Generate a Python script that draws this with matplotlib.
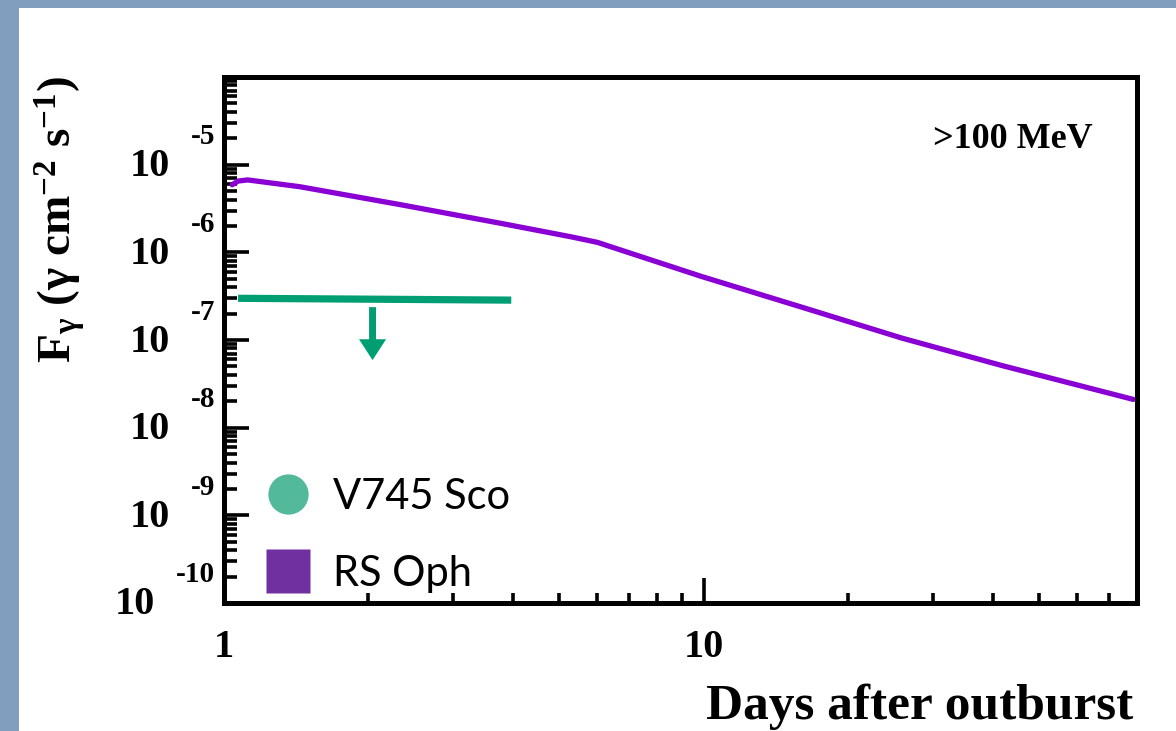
import numpy as np
import matplotlib.pyplot as plt
from matplotlib.patches import Rectangle
from matplotlib.lines import Line2D
from matplotlib.ticker import LogLocator, NullFormatter, FixedFormatter, FixedLocator

plt.rcParams['mathtext.fontset'] = 'custom'
plt.rcParams['mathtext.rm'] = 'Liberation Serif:bold'
plt.rcParams['mathtext.it'] = 'Liberation Serif:bold'
plt.rcParams['mathtext.bf'] = 'Liberation Serif:bold'

# RS Oph >100 MeV light curve (days, photons cm^-2 s^-1)
rs_days = [1.04, 1.07, 1.12, 1.44, 2.33, 3.78, 5.3, 6.0, 9.9, 16.0, 25.9, 41.9, 78.6]
rs_flux = [5.9e-6, 6.5e-6, 6.7e-6, 5.6e-6, 3.5e-6, 2.14e-6, 1.5e-6, 1.3e-6, 5.3e-7, 2.37e-7,
           1.05e-7, 5.1e-8, 2.1e-8]

# V745 Sco upper limit
ul_days = [1.07, 3.97]
ul_flux = [2.99e-7, 2.85e-7]
ul_arrow_day = 2.04
ul_arrow_from = 2.37e-7
ul_arrow_to = 5.9e-8

y_exponents = [-5, -6, -7, -8, -9, -10]
x_ticks = [1, 10]
x_ticklabels = ['1', '10']

W, H = 1176, 731
fig = plt.figure(figsize=(W / 100, H / 100), dpi=100)
fig.patch.set_facecolor('white')

# slide frame
frame_col = '#829EBE'
fig.add_artist(Rectangle((0, 0), 19 / W, 1, transform=fig.transFigure, color=frame_col, lw=0))
fig.add_artist(Rectangle((0, 1 - 8 / H), 1, 8 / H, transform=fig.transFigure, color=frame_col, lw=0))

ax = fig.add_axes([224 / W, 1 - 603 / H, (1137 - 224) / W, (603 - 77) / H])
ax.set_xscale('log')
ax.set_yscale('log')
ax.set_xlim(1, 80)
ax.set_ylim(1e-10, 1e-4)

ax.plot(rs_days, rs_flux, color='#8A00D4', lw=3.8, solid_capstyle='round', solid_joinstyle='round')
ax.plot(ul_days, ul_flux, color='#009E73', lw=5.2, solid_capstyle='butt')
ax.annotate('', xy=(ul_arrow_day, ul_arrow_to), xytext=(ul_arrow_day, ul_arrow_from),
            arrowprops=dict(arrowstyle='simple,head_length=1.5,head_width=1.95,tail_width=0.5',
                            mutation_scale=10, color='#009E73', lw=0, shrinkA=0, shrinkB=0))

for s in ax.spines.values():
    s.set_linewidth(3.6)

ax.yaxis.set_major_locator(LogLocator(base=10, numticks=20))
ax.yaxis.set_minor_locator(LogLocator(base=10, subs=np.arange(2, 10), numticks=20))
ax.yaxis.set_minor_formatter(NullFormatter())
ax.xaxis.set_major_locator(FixedLocator(x_ticks))
ax.xaxis.set_major_formatter(FixedFormatter(x_ticklabels))
ax.xaxis.set_minor_locator(LogLocator(base=10, subs=np.arange(2, 10), numticks=20))
ax.xaxis.set_minor_formatter(NullFormatter())

ax.tick_params(axis='y', which='major', direction='in', length=18, width=2.6,
               left=True, right=False, labelleft=False)
ax.tick_params(axis='y', which='minor', direction='in', length=9.5, width=2.6,
               left=True, right=False)
ax.tick_params(axis='x', which='major', direction='in', length=18, width=2.6,
               bottom=True, top=False, pad=19)
ax.tick_params(axis='x', which='minor', direction='in', length=7.5, width=2.6,
               bottom=True, top=False)
for lab in ax.get_xticklabels():
    lab.set_fontfamily('Liberation Serif')
    lab.set_fontweight('bold')
    lab.set_fontsize(29)

# old-style exponent labels: "10" with the exponent raised well above it
serif = dict(family='Liberation Serif', weight='bold')
for e in y_exponents:
    exp = str(e)
    ax.annotate(exp, xy=(0, 10.0 ** e), xycoords=('axes fraction', 'data'),
                xytext=(-9, 28), textcoords='offset pixels', ha='right', va='center',
                fontsize=21, **serif)
    ax.annotate('10', xy=(0, 10.0 ** e), xycoords=('axes fraction', 'data'),
                xytext=(-54 - 15 * (len(exp) - 2), -2), textcoords='offset pixels',
                ha='right', va='center', fontsize=29, **serif)

ax.text(1093 / W, 1 - 148 / H, '>100 MeV', transform=fig.transFigure, ha='right',
        va='baseline', fontsize=26, **serif)

fig.text(1133 / W, 1 - 719 / H, 'Days after outburst', ha='right', va='baseline',
         fontsize=37, **serif)
fig.text(60 / W, 1 - 220 / H, r'F$_{\gamma}$ ($\gamma$ cm$^{-2}$ s$^{-1}$)', rotation=90,
         ha='center', va='center', fontsize=34, **serif)

handles = [Line2D([], [], ls='none', marker='o', ms=29, color='#52BA9B', mec='none'),
           Line2D([], [], ls='none', marker='s', ms=31, color='#7030A0', mec='none')]
fig.legend(handles, ['V745 Sco', 'RS Oph'], loc='upper left',
           bbox_to_anchor=(259 / W, 1 - 478 / H), frameon=False, prop={'family': 'Lato', 'size': 30},
           handlelength=1.4, handletextpad=0.38, labelspacing=0.93, borderpad=0, borderaxespad=0)

fig.savefig('out.png', dpi=100)
